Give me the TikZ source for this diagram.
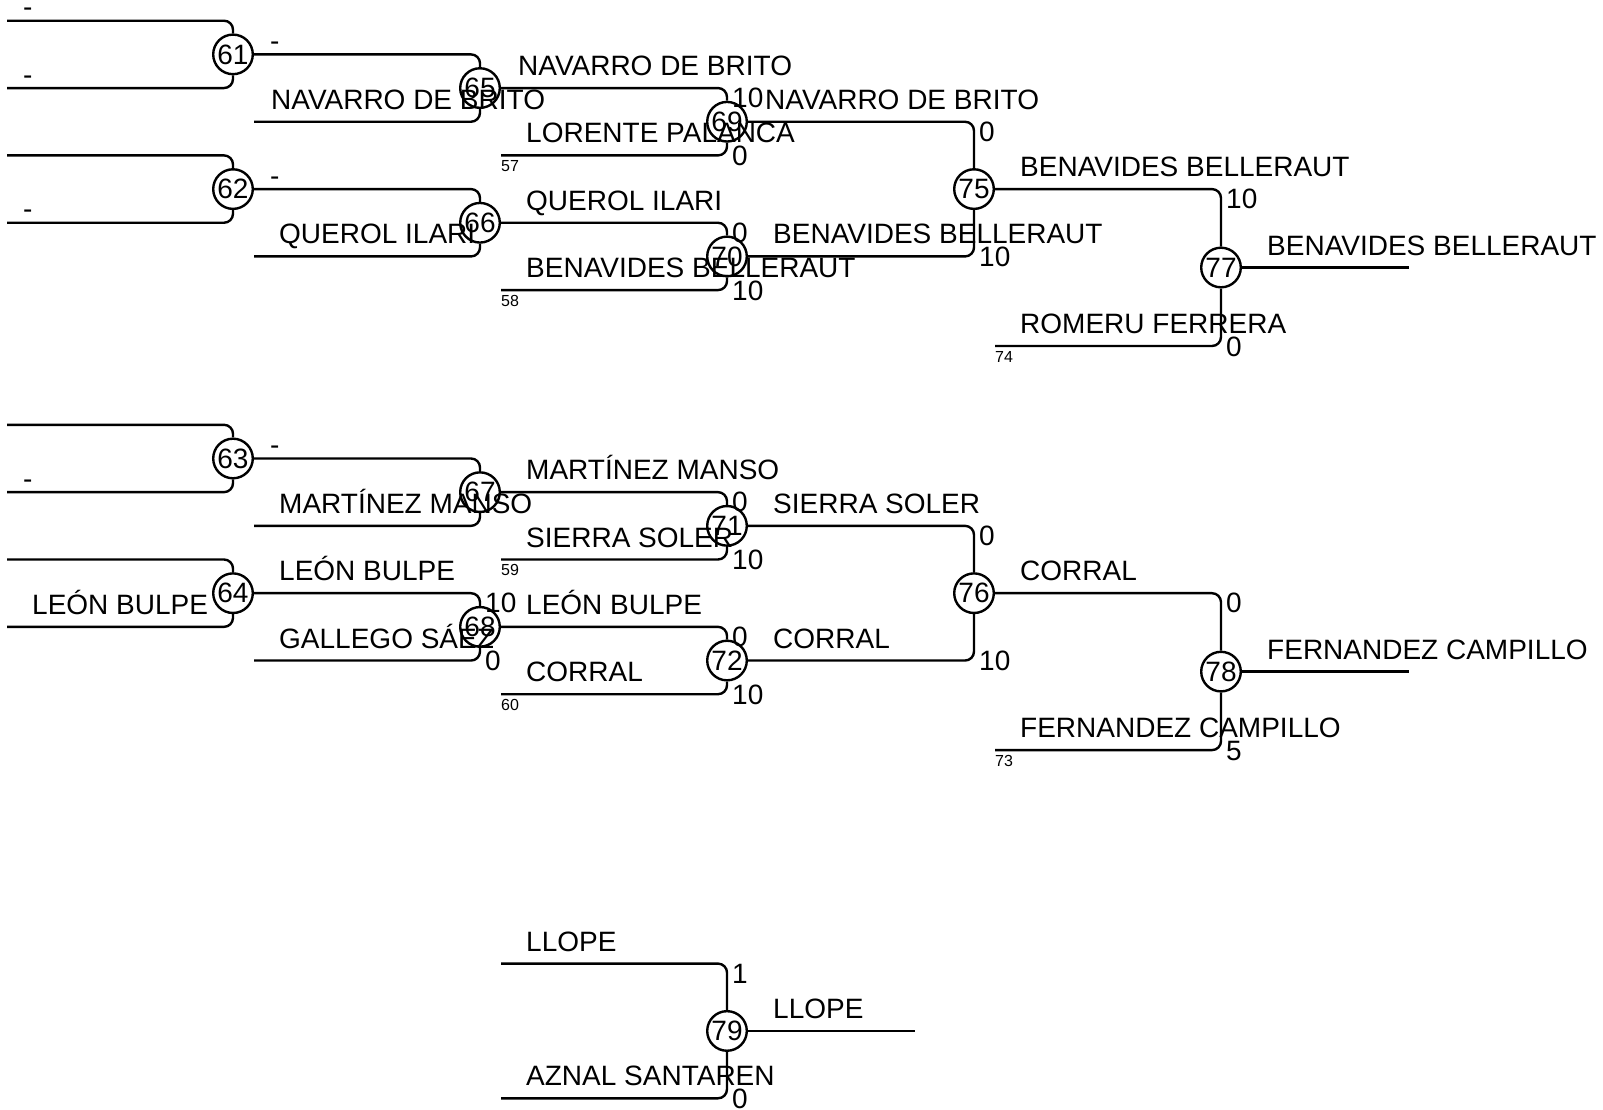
\documentclass[tikz,border=0pt]{standalone}
\usepackage{fontspec}
\setmainfont{Liberation Sans}

\begin{document}
\begin{tikzpicture}[
  x=1pt,
  y=-33.675pt,
  every node/.style={
    font=\fontsize{28}{30}\selectfont,
    inner sep=0pt,
  },
  match/.style={
    draw=black,
    line width=2.4pt,
    circle,
    minimum size=39.6pt,
  },
  wire/.style={
    draw=black,
    line width=2.4pt,
    rounded corners=9pt,
  },
  player/.style={anchor=base west, xshift=25pt, yshift=12.5pt},
  nobody/.style={anchor=base west, xshift=16pt, yshift=4pt},
  upscore/.style={anchor=base west, xshift=5pt, yshift=-19.5pt},
  downscore/.style={anchor=base west, xshift=5pt, yshift=-10pt},
  seed/.style={anchor=base west, yshift=-16pt, font=\fontsize{16}{18}\selectfont},
]
\fill[white, use as bounding box] (0,-0.6147) rectangle (1603,32.318);

\foreach \n/\x/\y in {61/233/1,62/233/5,63/233/13,64/233/17,
    65/480/2,66/480/6,67/480/14,68/480/18,
    69/727/3,70/727/7,71/727/15,72/727/19,
    75/974/5,76/974/17,77/1221/7.329,78/1221/19.329,79/727/30}
  \node[match] (m\n) at (\x,\y) {\n};

\foreach \n/\y in {61/0,62/4,63/12,64/16} {
  \coordinate (a\n) at (7,\y);
  \coordinate (b\n) at (7,\y+2);
}
\coordinate (b65) at (254,3);
\coordinate (b66) at (254,7);
\coordinate (b67) at (254,15);
\coordinate (b68) at (254,19);
\coordinate (b69) at (501,4);
\coordinate (b70) at (501,8);
\coordinate (b71) at (501,16);
\coordinate (b72) at (501,20);
\coordinate (b77) at (995,9.66);
\coordinate (b78) at (995,21.66);
\coordinate (a79) at (501,28);
\coordinate (b79) at (501,32);
\coordinate (e77) at (1409,7.329);
\coordinate (e78) at (1409,19.329);
\coordinate (e79) at (915,30);

\foreach \n in {61,62,63,64} {
  \draw[wire] (a\n) -| (m\n.north);
  \draw[wire] (b\n) -| (m\n.south);
}
\foreach \a/\b/\s in {61/65/north,62/66/north,63/67/north,64/68/north,
    65/69/north,66/70/north,67/71/north,68/72/north,
    69/75/north,70/75/south,71/76/north,72/76/south,
    75/77/north,76/78/north}
  \draw[wire] (m\a.east) -| (m\b.\s);
\foreach \n in {65,66,67,68,69,70,71,72,77,78,79}
  \draw[wire] (b\n) -| (m\n.south);
\draw[wire] (a79) -| (m79.north);
\foreach \n in {77,78,79}
  \draw[wire] (m\n.east) -- (e\n);

\node[nobody] (t61a) at (a61) {-};
\node[nobody] (t61b) at (b61) {-};
\node[nobody] (t62b) at (b62) {-};
\node[nobody] (t63b) at (b63) {-};
\node[player] (t64b) at (b64) {LEÓN BULPE};
\node[nobody] (t65a) at (m61.east) {-};
\node[player, xshift=-8pt] (t65b) at (b65) {NAVARRO DE BRITO};
\node[nobody] (t66a) at (m62.east) {-};
\node[player] (t66b) at (b66) {QUEROL ILARI};
\node[nobody] (t67a) at (m63.east) {-};
\node[player] (t67b) at (b67) {MARTÍNEZ MANSO};
\node[player] (t68a) at (m64.east) {LEÓN BULPE};
\node[player] (t68b) at (b68) {GALLEGO SÁEZ};
\node[player, xshift=-8pt] (t69a) at (m65.east) {NAVARRO DE BRITO};
\node[player] (t69b) at (b69) {LORENTE PALANCA};
\node[player] (t70a) at (m66.east) {QUEROL ILARI};
\node[player] (t70b) at (b70) {BENAVIDES BELLERAUT};
\node[player] (t71a) at (m67.east) {MARTÍNEZ MANSO};
\node[player] (t71b) at (b71) {SIERRA SOLER};
\node[player] (t72a) at (m68.east) {LEÓN BULPE};
\node[player] (t72b) at (b72) {CORRAL};
\node[player, xshift=-8pt] (t75a) at (m69.east) {NAVARRO DE BRITO};
\node[player] (t75b) at (m70.east) {BENAVIDES BELLERAUT};
\node[player] (t76a) at (m71.east) {SIERRA SOLER};
\node[player] (t76b) at (m72.east) {CORRAL};
\node[player] (t77a) at (m75.east) {BENAVIDES BELLERAUT};
\node[player] (t77b) at (b77) {ROMERU FERRERA};
\node[player] (t78a) at (m76.east) {CORRAL};
\node[player] (t78b) at (b78) {FERNANDEZ CAMPILLO};
\node[player] (t79a) at (a79) {LLOPE};
\node[player] (t79b) at (b79) {AZNAL SANTAREN};
\node[player] (w77) at (m77.east) {BENAVIDES BELLERAUT};
\node[player] (w78) at (m78.east) {FERNANDEZ CAMPILLO};
\node[player] (w79) at (m79.east) {LLOPE};

\node[upscore] (s68a) at (m68 |- m64) {10};
\node[downscore] (s68b) at (m68 |- b68) {0};
\node[upscore] (s69a) at (m69 |- m65) {10};
\node[downscore] (s69b) at (m69 |- b69) {0};
\node[upscore] (s70a) at (m70 |- m66) {0};
\node[downscore] (s70b) at (m70 |- b70) {10};
\node[upscore] (s71a) at (m71 |- m67) {0};
\node[downscore] (s71b) at (m71 |- b71) {10};
\node[upscore] (s72a) at (m72 |- m68) {0};
\node[downscore] (s72b) at (m72 |- b72) {10};
\node[upscore] (s75a) at (m75 |- m69) {0};
\node[downscore] (s75b) at (m75 |- m70) {10};
\node[upscore] (s76a) at (m76 |- m71) {0};
\node[downscore] (s76b) at (m76 |- m72) {10};
\node[upscore] (s77a) at (m77 |- m75) {10};
\node[downscore] (s77b) at (m77 |- b77) {0};
\node[upscore] (s78a) at (m78 |- m76) {0};
\node[downscore] (s78b) at (m78 |- b78) {5};
\node[upscore] (s79a) at (m79 |- a79) {1};
\node[downscore] (s79b) at (m79 |- b79) {0};

\node[seed] (n57) at (b69) {57};
\node[seed] (n58) at (b70) {58};
\node[seed] (n59) at (b71) {59};
\node[seed] (n60) at (b72) {60};
\node[seed] (n74) at (b77) {74};
\node[seed] (n73) at (b78) {73};
\end{tikzpicture}
\end{document}
